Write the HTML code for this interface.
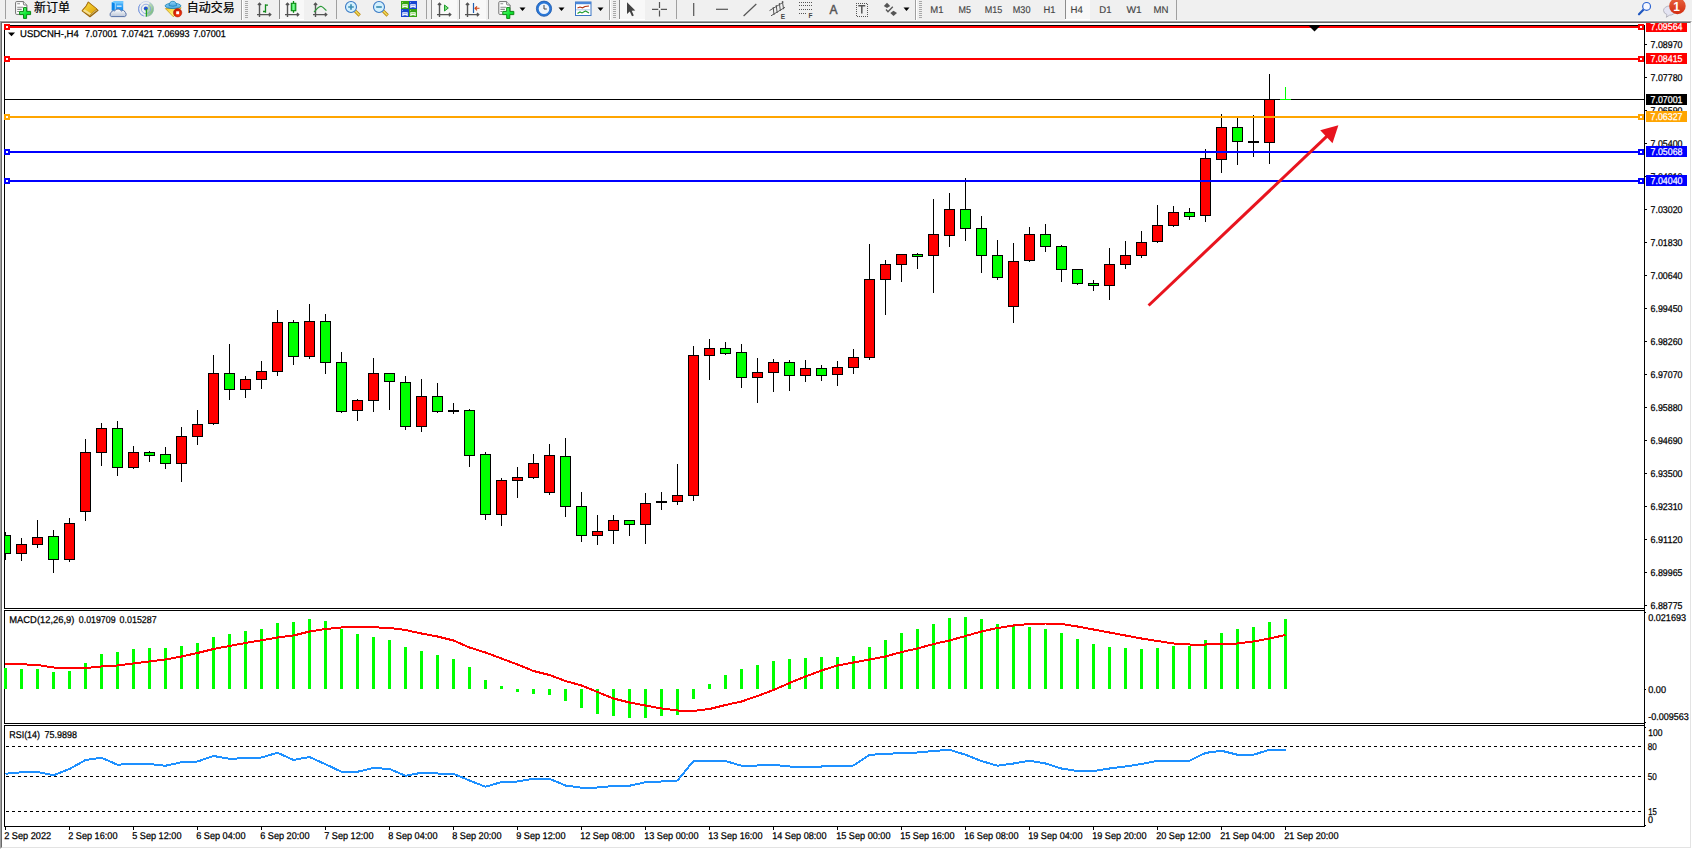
<!DOCTYPE html>
<html lang="zh-CN"><head><meta charset="utf-8"><title>USDCNH-,H4</title>
<style>
html,body{margin:0;padding:0;background:#f0f0f0;}
body{width:1692px;height:849px;overflow:hidden;position:relative;font-family:"Liberation Sans","Noto Sans CJK SC",sans-serif;}
#frame{position:absolute;left:0;top:21px;width:1692px;height:828px;background:#fff;box-sizing:border-box;border:1px solid #fff;border-top-color:#a0a0a0;border-left-color:#a0a0a0;}
#frame:before{content:"";position:absolute;left:0;top:0;right:0;bottom:0;border:1px solid #e3e3e3;border-top-color:#696969;border-left-color:#696969;}
#chart{position:absolute;left:0;top:0;}
#chart text{font-family:"Liberation Sans",sans-serif;}
#toolbar{position:absolute;left:0;top:0;width:1692px;height:21px;background:#f0f0f0;overflow:hidden;box-sizing:border-box;border-bottom:1px solid #f9f9f9;}
#toolbar .lbl{position:absolute;top:0;font-size:12px;line-height:16px;color:#000;-webkit-text-stroke:0.2px #000;white-space:nowrap;font-family:"Liberation Sans","Noto Sans CJK SC",sans-serif;}
#toolbar .tf{position:absolute;top:3.5px;font-size:9.3px;line-height:12px;color:#444;white-space:nowrap;}
#toolbar svg{position:absolute;left:0;top:0;}
</style></head>
<body>
<div id="frame"></div>
<svg id="chart" width="1692" height="849" viewBox="0 0 1692 849" shape-rendering="crispEdges">
<g fill="#000">
<rect x="4" y="25" width="1" height="584" fill="#000"/>
<rect x="4" y="25" width="1641" height="1" fill="#000"/>
<rect x="4" y="608" width="1641" height="1" fill="#000"/>
<rect x="4" y="610" width="1" height="114" fill="#000"/>
<rect x="4" y="610" width="1641" height="1" fill="#000"/>
<rect x="4" y="723" width="1641" height="1" fill="#000"/>
<rect x="4" y="725" width="1" height="102" fill="#000"/>
<rect x="4" y="725" width="1641" height="1" fill="#000"/>
<rect x="4" y="826" width="1641" height="1" fill="#000"/>
<rect x="1644" y="25" width="1" height="802" fill="#000"/>
<rect x="1645" y="44" width="2" height="1" fill="#000"/>
<rect x="1645" y="77" width="2" height="1" fill="#000"/>
<rect x="1645" y="110" width="2" height="1" fill="#000"/>
<rect x="1645" y="143" width="2" height="1" fill="#000"/>
<rect x="1645" y="176" width="2" height="1" fill="#000"/>
<rect x="1645" y="209" width="2" height="1" fill="#000"/>
<rect x="1645" y="242" width="2" height="1" fill="#000"/>
<rect x="1645" y="275" width="2" height="1" fill="#000"/>
<rect x="1645" y="308" width="2" height="1" fill="#000"/>
<rect x="1645" y="341" width="2" height="1" fill="#000"/>
<rect x="1645" y="374" width="2" height="1" fill="#000"/>
<rect x="1645" y="407" width="2" height="1" fill="#000"/>
<rect x="1645" y="440" width="2" height="1" fill="#000"/>
<rect x="1645" y="473" width="2" height="1" fill="#000"/>
<rect x="1645" y="506" width="2" height="1" fill="#000"/>
<rect x="1645" y="539" width="2" height="1" fill="#000"/>
<rect x="1645" y="572" width="2" height="1" fill="#000"/>
<rect x="1645" y="605" width="2" height="1" fill="#000"/>
<rect x="1645" y="689" width="1" height="1" fill="#000"/>
<rect x="1645" y="612" width="1" height="1" fill="#000"/>
<rect x="1645" y="722" width="1" height="1" fill="#000"/>
<rect x="1645" y="727" width="1" height="1" fill="#000"/>
<rect x="1645" y="825" width="1" height="1" fill="#000"/>
<rect x="5" y="827" width="1" height="3" fill="#000"/>
<rect x="69" y="827" width="1" height="3" fill="#000"/>
<rect x="133" y="827" width="1" height="3" fill="#000"/>
<rect x="197" y="827" width="1" height="3" fill="#000"/>
<rect x="261" y="827" width="1" height="3" fill="#000"/>
<rect x="325" y="827" width="1" height="3" fill="#000"/>
<rect x="389" y="827" width="1" height="3" fill="#000"/>
<rect x="453" y="827" width="1" height="3" fill="#000"/>
<rect x="517" y="827" width="1" height="3" fill="#000"/>
<rect x="581" y="827" width="1" height="3" fill="#000"/>
<rect x="645" y="827" width="1" height="3" fill="#000"/>
<rect x="709" y="827" width="1" height="3" fill="#000"/>
<rect x="773" y="827" width="1" height="3" fill="#000"/>
<rect x="837" y="827" width="1" height="3" fill="#000"/>
<rect x="901" y="827" width="1" height="3" fill="#000"/>
<rect x="965" y="827" width="1" height="3" fill="#000"/>
<rect x="1029" y="827" width="1" height="3" fill="#000"/>
<rect x="1093" y="827" width="1" height="3" fill="#000"/>
<rect x="1157" y="827" width="1" height="3" fill="#000"/>
<rect x="1221" y="827" width="1" height="3" fill="#000"/>
<rect x="1285" y="827" width="1" height="3" fill="#000"/>
</g>
<rect x="5" y="99" width="1639" height="1" fill="#000"/>
<g id="candles">
<rect x="5" y="532" width="1" height="28" fill="#000"/>
<rect x="5" y="535" width="6" height="19" fill="#000"/>
<rect x="5" y="536" width="5" height="17" fill="#00ff00"/>
<rect x="21" y="538" width="1" height="23" fill="#000"/>
<rect x="16" y="544" width="11" height="10" fill="#000"/>
<rect x="17" y="545" width="9" height="8" fill="#ff0000"/>
<rect x="37" y="520" width="1" height="28" fill="#000"/>
<rect x="32" y="537" width="11" height="8" fill="#000"/>
<rect x="33" y="538" width="9" height="6" fill="#ff0000"/>
<rect x="53" y="530" width="1" height="43" fill="#000"/>
<rect x="48" y="536" width="11" height="24" fill="#000"/>
<rect x="49" y="537" width="9" height="22" fill="#00ff00"/>
<rect x="69" y="518" width="1" height="44" fill="#000"/>
<rect x="64" y="523" width="11" height="37" fill="#000"/>
<rect x="65" y="524" width="9" height="35" fill="#ff0000"/>
<rect x="85" y="439" width="1" height="82" fill="#000"/>
<rect x="80" y="452" width="11" height="60" fill="#000"/>
<rect x="81" y="453" width="9" height="58" fill="#ff0000"/>
<rect x="101" y="423" width="1" height="43" fill="#000"/>
<rect x="96" y="428" width="11" height="25" fill="#000"/>
<rect x="97" y="429" width="9" height="23" fill="#ff0000"/>
<rect x="117" y="421" width="1" height="55" fill="#000"/>
<rect x="112" y="428" width="11" height="40" fill="#000"/>
<rect x="113" y="429" width="9" height="38" fill="#00ff00"/>
<rect x="133" y="446" width="1" height="23" fill="#000"/>
<rect x="128" y="452" width="11" height="16" fill="#000"/>
<rect x="129" y="453" width="9" height="14" fill="#ff0000"/>
<rect x="149" y="451" width="1" height="11" fill="#000"/>
<rect x="144" y="452" width="11" height="4" fill="#000"/>
<rect x="145" y="453" width="9" height="2" fill="#00ff00"/>
<rect x="165" y="447" width="1" height="22" fill="#000"/>
<rect x="160" y="454" width="11" height="10" fill="#000"/>
<rect x="161" y="455" width="9" height="8" fill="#00ff00"/>
<rect x="181" y="427" width="1" height="55" fill="#000"/>
<rect x="176" y="436" width="11" height="28" fill="#000"/>
<rect x="177" y="437" width="9" height="26" fill="#ff0000"/>
<rect x="197" y="410" width="1" height="35" fill="#000"/>
<rect x="192" y="424" width="11" height="13" fill="#000"/>
<rect x="193" y="425" width="9" height="11" fill="#ff0000"/>
<rect x="213" y="355" width="1" height="70" fill="#000"/>
<rect x="208" y="373" width="11" height="51" fill="#000"/>
<rect x="209" y="374" width="9" height="49" fill="#ff0000"/>
<rect x="229" y="344" width="1" height="56" fill="#000"/>
<rect x="224" y="373" width="11" height="17" fill="#000"/>
<rect x="225" y="374" width="9" height="15" fill="#00ff00"/>
<rect x="245" y="376" width="1" height="22" fill="#000"/>
<rect x="240" y="379" width="11" height="11" fill="#000"/>
<rect x="241" y="380" width="9" height="9" fill="#ff0000"/>
<rect x="261" y="361" width="1" height="28" fill="#000"/>
<rect x="256" y="371" width="11" height="9" fill="#000"/>
<rect x="257" y="372" width="9" height="7" fill="#ff0000"/>
<rect x="277" y="310" width="1" height="66" fill="#000"/>
<rect x="272" y="322" width="11" height="50" fill="#000"/>
<rect x="273" y="323" width="9" height="48" fill="#ff0000"/>
<rect x="293" y="320" width="1" height="45" fill="#000"/>
<rect x="288" y="322" width="11" height="35" fill="#000"/>
<rect x="289" y="323" width="9" height="33" fill="#00ff00"/>
<rect x="309" y="304" width="1" height="55" fill="#000"/>
<rect x="304" y="321" width="11" height="36" fill="#000"/>
<rect x="305" y="322" width="9" height="34" fill="#ff0000"/>
<rect x="325" y="314" width="1" height="60" fill="#000"/>
<rect x="320" y="321" width="11" height="42" fill="#000"/>
<rect x="321" y="322" width="9" height="40" fill="#00ff00"/>
<rect x="341" y="352" width="1" height="61" fill="#000"/>
<rect x="336" y="362" width="11" height="50" fill="#000"/>
<rect x="337" y="363" width="9" height="48" fill="#00ff00"/>
<rect x="357" y="399" width="1" height="22" fill="#000"/>
<rect x="352" y="400" width="11" height="11" fill="#000"/>
<rect x="353" y="401" width="9" height="9" fill="#ff0000"/>
<rect x="373" y="358" width="1" height="54" fill="#000"/>
<rect x="368" y="373" width="11" height="28" fill="#000"/>
<rect x="369" y="374" width="9" height="26" fill="#ff0000"/>
<rect x="389" y="373" width="1" height="37" fill="#000"/>
<rect x="384" y="373" width="11" height="9" fill="#000"/>
<rect x="385" y="374" width="9" height="7" fill="#00ff00"/>
<rect x="405" y="376" width="1" height="54" fill="#000"/>
<rect x="400" y="382" width="11" height="45" fill="#000"/>
<rect x="401" y="383" width="9" height="43" fill="#00ff00"/>
<rect x="421" y="379" width="1" height="53" fill="#000"/>
<rect x="416" y="396" width="11" height="31" fill="#000"/>
<rect x="417" y="397" width="9" height="29" fill="#ff0000"/>
<rect x="437" y="383" width="1" height="30" fill="#000"/>
<rect x="432" y="396" width="11" height="16" fill="#000"/>
<rect x="433" y="397" width="9" height="14" fill="#00ff00"/>
<rect x="453" y="403" width="1" height="11" fill="#000"/>
<rect x="448" y="410" width="11" height="2" fill="#000"/>
<rect x="469" y="409" width="1" height="58" fill="#000"/>
<rect x="464" y="410" width="11" height="46" fill="#000"/>
<rect x="465" y="411" width="9" height="44" fill="#00ff00"/>
<rect x="485" y="452" width="1" height="68" fill="#000"/>
<rect x="480" y="454" width="11" height="61" fill="#000"/>
<rect x="481" y="455" width="9" height="59" fill="#00ff00"/>
<rect x="501" y="478" width="1" height="48" fill="#000"/>
<rect x="496" y="480" width="11" height="35" fill="#000"/>
<rect x="497" y="481" width="9" height="33" fill="#ff0000"/>
<rect x="517" y="467" width="1" height="31" fill="#000"/>
<rect x="512" y="477" width="11" height="4" fill="#000"/>
<rect x="513" y="478" width="9" height="2" fill="#ff0000"/>
<rect x="533" y="454" width="1" height="25" fill="#000"/>
<rect x="528" y="463" width="11" height="15" fill="#000"/>
<rect x="529" y="464" width="9" height="13" fill="#ff0000"/>
<rect x="549" y="444" width="1" height="51" fill="#000"/>
<rect x="544" y="455" width="11" height="38" fill="#000"/>
<rect x="545" y="456" width="9" height="36" fill="#ff0000"/>
<rect x="565" y="438" width="1" height="79" fill="#000"/>
<rect x="560" y="456" width="11" height="51" fill="#000"/>
<rect x="561" y="457" width="9" height="49" fill="#00ff00"/>
<rect x="581" y="492" width="1" height="50" fill="#000"/>
<rect x="576" y="506" width="11" height="30" fill="#000"/>
<rect x="577" y="507" width="9" height="28" fill="#00ff00"/>
<rect x="597" y="515" width="1" height="30" fill="#000"/>
<rect x="592" y="531" width="11" height="5" fill="#000"/>
<rect x="593" y="532" width="9" height="3" fill="#ff0000"/>
<rect x="613" y="515" width="1" height="29" fill="#000"/>
<rect x="608" y="520" width="11" height="11" fill="#000"/>
<rect x="609" y="521" width="9" height="9" fill="#ff0000"/>
<rect x="629" y="520" width="1" height="16" fill="#000"/>
<rect x="624" y="520" width="11" height="5" fill="#000"/>
<rect x="625" y="521" width="9" height="3" fill="#00ff00"/>
<rect x="645" y="493" width="1" height="51" fill="#000"/>
<rect x="640" y="503" width="11" height="22" fill="#000"/>
<rect x="641" y="504" width="9" height="20" fill="#ff0000"/>
<rect x="661" y="492" width="1" height="18" fill="#000"/>
<rect x="656" y="501" width="11" height="2" fill="#000"/>
<rect x="677" y="464" width="1" height="41" fill="#000"/>
<rect x="672" y="495" width="11" height="7" fill="#000"/>
<rect x="673" y="496" width="9" height="5" fill="#ff0000"/>
<rect x="693" y="346" width="1" height="155" fill="#000"/>
<rect x="688" y="355" width="11" height="141" fill="#000"/>
<rect x="689" y="356" width="9" height="139" fill="#ff0000"/>
<rect x="709" y="339" width="1" height="41" fill="#000"/>
<rect x="704" y="348" width="11" height="8" fill="#000"/>
<rect x="705" y="349" width="9" height="6" fill="#ff0000"/>
<rect x="725" y="342" width="1" height="13" fill="#000"/>
<rect x="720" y="348" width="11" height="6" fill="#000"/>
<rect x="721" y="349" width="9" height="4" fill="#00ff00"/>
<rect x="741" y="344" width="1" height="44" fill="#000"/>
<rect x="736" y="352" width="11" height="26" fill="#000"/>
<rect x="737" y="353" width="9" height="24" fill="#00ff00"/>
<rect x="757" y="358" width="1" height="45" fill="#000"/>
<rect x="752" y="372" width="11" height="6" fill="#000"/>
<rect x="753" y="373" width="9" height="4" fill="#ff0000"/>
<rect x="773" y="359" width="1" height="33" fill="#000"/>
<rect x="768" y="362" width="11" height="11" fill="#000"/>
<rect x="769" y="363" width="9" height="9" fill="#ff0000"/>
<rect x="789" y="360" width="1" height="31" fill="#000"/>
<rect x="784" y="362" width="11" height="14" fill="#000"/>
<rect x="785" y="363" width="9" height="12" fill="#00ff00"/>
<rect x="805" y="360" width="1" height="22" fill="#000"/>
<rect x="800" y="368" width="11" height="8" fill="#000"/>
<rect x="801" y="369" width="9" height="6" fill="#ff0000"/>
<rect x="821" y="365" width="1" height="16" fill="#000"/>
<rect x="816" y="368" width="11" height="8" fill="#000"/>
<rect x="817" y="369" width="9" height="6" fill="#00ff00"/>
<rect x="837" y="361" width="1" height="25" fill="#000"/>
<rect x="832" y="367" width="11" height="8" fill="#000"/>
<rect x="833" y="368" width="9" height="6" fill="#ff0000"/>
<rect x="853" y="349" width="1" height="25" fill="#000"/>
<rect x="848" y="357" width="11" height="11" fill="#000"/>
<rect x="849" y="358" width="9" height="9" fill="#ff0000"/>
<rect x="869" y="244" width="1" height="116" fill="#000"/>
<rect x="864" y="279" width="11" height="79" fill="#000"/>
<rect x="865" y="280" width="9" height="77" fill="#ff0000"/>
<rect x="885" y="260" width="1" height="55" fill="#000"/>
<rect x="880" y="264" width="11" height="16" fill="#000"/>
<rect x="881" y="265" width="9" height="14" fill="#ff0000"/>
<rect x="901" y="254" width="1" height="28" fill="#000"/>
<rect x="896" y="254" width="11" height="11" fill="#000"/>
<rect x="897" y="255" width="9" height="9" fill="#ff0000"/>
<rect x="917" y="253" width="1" height="16" fill="#000"/>
<rect x="912" y="254" width="11" height="3" fill="#000"/>
<rect x="913" y="255" width="9" height="1" fill="#00ff00"/>
<rect x="933" y="199" width="1" height="94" fill="#000"/>
<rect x="928" y="234" width="11" height="22" fill="#000"/>
<rect x="929" y="235" width="9" height="20" fill="#ff0000"/>
<rect x="949" y="193" width="1" height="54" fill="#000"/>
<rect x="944" y="209" width="11" height="27" fill="#000"/>
<rect x="945" y="210" width="9" height="25" fill="#ff0000"/>
<rect x="965" y="178" width="1" height="63" fill="#000"/>
<rect x="960" y="209" width="11" height="20" fill="#000"/>
<rect x="961" y="210" width="9" height="18" fill="#00ff00"/>
<rect x="981" y="216" width="1" height="57" fill="#000"/>
<rect x="976" y="228" width="11" height="28" fill="#000"/>
<rect x="977" y="229" width="9" height="26" fill="#00ff00"/>
<rect x="997" y="240" width="1" height="40" fill="#000"/>
<rect x="992" y="255" width="11" height="23" fill="#000"/>
<rect x="993" y="256" width="9" height="21" fill="#00ff00"/>
<rect x="1013" y="243" width="1" height="80" fill="#000"/>
<rect x="1008" y="261" width="11" height="46" fill="#000"/>
<rect x="1009" y="262" width="9" height="44" fill="#ff0000"/>
<rect x="1029" y="227" width="1" height="35" fill="#000"/>
<rect x="1024" y="234" width="11" height="27" fill="#000"/>
<rect x="1025" y="235" width="9" height="25" fill="#ff0000"/>
<rect x="1045" y="224" width="1" height="28" fill="#000"/>
<rect x="1040" y="234" width="11" height="13" fill="#000"/>
<rect x="1041" y="235" width="9" height="11" fill="#00ff00"/>
<rect x="1061" y="245" width="1" height="37" fill="#000"/>
<rect x="1056" y="246" width="11" height="24" fill="#000"/>
<rect x="1057" y="247" width="9" height="22" fill="#00ff00"/>
<rect x="1077" y="269" width="1" height="16" fill="#000"/>
<rect x="1072" y="269" width="11" height="15" fill="#000"/>
<rect x="1073" y="270" width="9" height="13" fill="#00ff00"/>
<rect x="1093" y="280" width="1" height="11" fill="#000"/>
<rect x="1088" y="283" width="11" height="3" fill="#000"/>
<rect x="1089" y="284" width="9" height="1" fill="#00ff00"/>
<rect x="1109" y="248" width="1" height="52" fill="#000"/>
<rect x="1104" y="264" width="11" height="22" fill="#000"/>
<rect x="1105" y="265" width="9" height="20" fill="#ff0000"/>
<rect x="1125" y="241" width="1" height="28" fill="#000"/>
<rect x="1120" y="255" width="11" height="10" fill="#000"/>
<rect x="1121" y="256" width="9" height="8" fill="#ff0000"/>
<rect x="1141" y="231" width="1" height="27" fill="#000"/>
<rect x="1136" y="242" width="11" height="14" fill="#000"/>
<rect x="1137" y="243" width="9" height="12" fill="#ff0000"/>
<rect x="1157" y="205" width="1" height="38" fill="#000"/>
<rect x="1152" y="225" width="11" height="17" fill="#000"/>
<rect x="1153" y="226" width="9" height="15" fill="#ff0000"/>
<rect x="1173" y="206" width="1" height="21" fill="#000"/>
<rect x="1168" y="212" width="11" height="14" fill="#000"/>
<rect x="1169" y="213" width="9" height="12" fill="#ff0000"/>
<rect x="1189" y="208" width="1" height="12" fill="#000"/>
<rect x="1184" y="212" width="11" height="5" fill="#000"/>
<rect x="1185" y="213" width="9" height="3" fill="#00ff00"/>
<rect x="1205" y="149" width="1" height="73" fill="#000"/>
<rect x="1200" y="158" width="11" height="58" fill="#000"/>
<rect x="1201" y="159" width="9" height="56" fill="#ff0000"/>
<rect x="1221" y="114" width="1" height="59" fill="#000"/>
<rect x="1216" y="127" width="11" height="33" fill="#000"/>
<rect x="1217" y="128" width="9" height="31" fill="#ff0000"/>
<rect x="1237" y="118" width="1" height="47" fill="#000"/>
<rect x="1232" y="127" width="11" height="15" fill="#000"/>
<rect x="1233" y="128" width="9" height="13" fill="#00ff00"/>
<rect x="1253" y="115" width="1" height="42" fill="#000"/>
<rect x="1248" y="141" width="11" height="2" fill="#000"/>
<rect x="1269" y="74" width="1" height="90" fill="#000"/>
<rect x="1264" y="99" width="11" height="44" fill="#000"/>
<rect x="1265" y="100" width="9" height="42" fill="#ff0000"/>
<rect x="1285" y="87" width="1" height="13" fill="#00ff00"/>
<rect x="1280" y="99" width="11" height="1" fill="#00ff00"/>
</g>
<g id="levels">
<rect x="5" y="26" width="1639" height="2" fill="#ff0000"/><rect x="4" y="24" width="6" height="6" fill="#ff0000"/><rect x="6" y="26" width="2" height="2" fill="#fff"/><rect x="1638" y="24" width="6" height="6" fill="#ff0000"/><rect x="1640" y="26" width="2" height="2" fill="#fff"/>
<rect x="5" y="58" width="1639" height="2" fill="#ff0000"/><rect x="4" y="56" width="6" height="6" fill="#ff0000"/><rect x="6" y="58" width="2" height="2" fill="#fff"/><rect x="1638" y="56" width="6" height="6" fill="#ff0000"/><rect x="1640" y="58" width="2" height="2" fill="#fff"/>
<rect x="5" y="116" width="1639" height="2" fill="#ffa500"/><rect x="4" y="114" width="6" height="6" fill="#ffa500"/><rect x="6" y="116" width="2" height="2" fill="#fff"/><rect x="1638" y="114" width="6" height="6" fill="#ffa500"/><rect x="1640" y="116" width="2" height="2" fill="#fff"/>
<rect x="5" y="151" width="1639" height="2" fill="#0000ff"/><rect x="4" y="149" width="6" height="6" fill="#0000ff"/><rect x="6" y="151" width="2" height="2" fill="#fff"/><rect x="1638" y="149" width="6" height="6" fill="#0000ff"/><rect x="1640" y="151" width="2" height="2" fill="#fff"/>
<rect x="5" y="180" width="1639" height="2" fill="#0000ff"/><rect x="4" y="178" width="6" height="6" fill="#0000ff"/><rect x="6" y="180" width="2" height="2" fill="#fff"/><rect x="1638" y="178" width="6" height="6" fill="#0000ff"/><rect x="1640" y="180" width="2" height="2" fill="#fff"/>
</g>
<path d="M1309 26 L1320 26 L1314.5 31.5 Z" fill="#000" shape-rendering="geometricPrecision"/>
<g id="arrow" shape-rendering="geometricPrecision"><line x1="1148.6" y1="305.5" x2="1327.8" y2="135.4" stroke="#e8141e" stroke-width="3"/><path d="M1338.4 125.3 L1332.5 143.2 L1320.2 130.3 Z" fill="#e8141e"/></g>
<g id="macd">
<rect x="4" y="668" width="3" height="21" fill="#00ff00"/>
<rect x="20" y="669" width="3" height="20" fill="#00ff00"/>
<rect x="36" y="669" width="3" height="20" fill="#00ff00"/>
<rect x="52" y="672" width="3" height="17" fill="#00ff00"/>
<rect x="68" y="671" width="3" height="18" fill="#00ff00"/>
<rect x="84" y="663" width="3" height="26" fill="#00ff00"/>
<rect x="100" y="654" width="3" height="35" fill="#00ff00"/>
<rect x="116" y="652" width="3" height="37" fill="#00ff00"/>
<rect x="132" y="649" width="3" height="40" fill="#00ff00"/>
<rect x="148" y="648" width="3" height="41" fill="#00ff00"/>
<rect x="164" y="648" width="3" height="41" fill="#00ff00"/>
<rect x="180" y="646" width="3" height="43" fill="#00ff00"/>
<rect x="196" y="643" width="3" height="46" fill="#00ff00"/>
<rect x="212" y="637" width="3" height="52" fill="#00ff00"/>
<rect x="228" y="634" width="3" height="55" fill="#00ff00"/>
<rect x="244" y="631" width="3" height="58" fill="#00ff00"/>
<rect x="260" y="629" width="3" height="60" fill="#00ff00"/>
<rect x="276" y="623" width="3" height="66" fill="#00ff00"/>
<rect x="292" y="622" width="3" height="67" fill="#00ff00"/>
<rect x="308" y="619" width="3" height="70" fill="#00ff00"/>
<rect x="324" y="621" width="3" height="68" fill="#00ff00"/>
<rect x="340" y="629" width="3" height="60" fill="#00ff00"/>
<rect x="356" y="634" width="3" height="55" fill="#00ff00"/>
<rect x="372" y="637" width="3" height="52" fill="#00ff00"/>
<rect x="388" y="640" width="3" height="49" fill="#00ff00"/>
<rect x="404" y="647" width="3" height="42" fill="#00ff00"/>
<rect x="420" y="651" width="3" height="38" fill="#00ff00"/>
<rect x="436" y="655" width="3" height="34" fill="#00ff00"/>
<rect x="452" y="659" width="3" height="30" fill="#00ff00"/>
<rect x="468" y="667" width="3" height="22" fill="#00ff00"/>
<rect x="484" y="680" width="3" height="9" fill="#00ff00"/>
<rect x="500" y="686" width="3" height="3" fill="#00ff00"/>
<rect x="516" y="689" width="3" height="3" fill="#00ff00"/>
<rect x="532" y="689" width="3" height="5" fill="#00ff00"/>
<rect x="548" y="689" width="3" height="6" fill="#00ff00"/>
<rect x="564" y="689" width="3" height="12" fill="#00ff00"/>
<rect x="580" y="689" width="3" height="19" fill="#00ff00"/>
<rect x="596" y="689" width="3" height="25" fill="#00ff00"/>
<rect x="612" y="689" width="3" height="27" fill="#00ff00"/>
<rect x="628" y="689" width="3" height="29" fill="#00ff00"/>
<rect x="644" y="689" width="3" height="29" fill="#00ff00"/>
<rect x="660" y="689" width="3" height="27" fill="#00ff00"/>
<rect x="676" y="689" width="3" height="26" fill="#00ff00"/>
<rect x="692" y="689" width="3" height="10" fill="#00ff00"/>
<rect x="708" y="684" width="3" height="5" fill="#00ff00"/>
<rect x="724" y="675" width="3" height="14" fill="#00ff00"/>
<rect x="740" y="669" width="3" height="20" fill="#00ff00"/>
<rect x="756" y="665" width="3" height="24" fill="#00ff00"/>
<rect x="772" y="661" width="3" height="28" fill="#00ff00"/>
<rect x="788" y="659" width="3" height="30" fill="#00ff00"/>
<rect x="804" y="658" width="3" height="31" fill="#00ff00"/>
<rect x="820" y="657" width="3" height="32" fill="#00ff00"/>
<rect x="836" y="657" width="3" height="32" fill="#00ff00"/>
<rect x="852" y="656" width="3" height="33" fill="#00ff00"/>
<rect x="868" y="647" width="3" height="42" fill="#00ff00"/>
<rect x="884" y="640" width="3" height="49" fill="#00ff00"/>
<rect x="900" y="633" width="3" height="56" fill="#00ff00"/>
<rect x="916" y="629" width="3" height="60" fill="#00ff00"/>
<rect x="932" y="624" width="3" height="65" fill="#00ff00"/>
<rect x="948" y="618" width="3" height="71" fill="#00ff00"/>
<rect x="964" y="617" width="3" height="72" fill="#00ff00"/>
<rect x="980" y="619" width="3" height="70" fill="#00ff00"/>
<rect x="996" y="624" width="3" height="65" fill="#00ff00"/>
<rect x="1012" y="626" width="3" height="63" fill="#00ff00"/>
<rect x="1028" y="627" width="3" height="62" fill="#00ff00"/>
<rect x="1044" y="629" width="3" height="60" fill="#00ff00"/>
<rect x="1060" y="633" width="3" height="56" fill="#00ff00"/>
<rect x="1076" y="639" width="3" height="50" fill="#00ff00"/>
<rect x="1092" y="644" width="3" height="45" fill="#00ff00"/>
<rect x="1108" y="647" width="3" height="42" fill="#00ff00"/>
<rect x="1124" y="648" width="3" height="41" fill="#00ff00"/>
<rect x="1140" y="649" width="3" height="40" fill="#00ff00"/>
<rect x="1156" y="648" width="3" height="41" fill="#00ff00"/>
<rect x="1172" y="646" width="3" height="43" fill="#00ff00"/>
<rect x="1188" y="646" width="3" height="43" fill="#00ff00"/>
<rect x="1204" y="640" width="3" height="49" fill="#00ff00"/>
<rect x="1220" y="633" width="3" height="56" fill="#00ff00"/>
<rect x="1236" y="629" width="3" height="60" fill="#00ff00"/>
<rect x="1252" y="627" width="3" height="62" fill="#00ff00"/>
<rect x="1268" y="622" width="3" height="67" fill="#00ff00"/>
<rect x="1284" y="619" width="3" height="70" fill="#00ff00"/>
<polyline points="5.5,664 21.5,664.25 37.5,665 53.5,667.5 69.5,668 85.5,668 101.5,666.5 117.5,665.5 133.5,663.5 149.5,661.5 165.5,659.5 181.5,656.5 197.5,653 213.5,649 229.5,646 245.5,643 261.5,640.25 277.5,637.5 293.5,635.5 309.5,631.5 325.5,629 341.5,627.5 357.5,627 373.5,627.25 389.5,628 405.5,630 421.5,633.5 437.5,636.5 453.5,640.5 469.5,647.5 485.5,652.5 501.5,658.5 517.5,664.5 533.5,671 549.5,675 565.5,681 581.5,685.5 597.5,692 613.5,698.5 629.5,702.5 645.5,705.5 661.5,708.5 677.5,710.5 693.5,711 709.5,709 725.5,705 741.5,701.5 757.5,696 773.5,690 789.5,683 805.5,676.5 821.5,670.5 837.5,665.5 853.5,662.5 869.5,659.5 885.5,656.5 901.5,652 917.5,648.5 933.5,644 949.5,640.5 965.5,636 981.5,631.5 997.5,628 1013.5,625.5 1029.5,624 1045.5,623.5 1061.5,624 1077.5,626.5 1093.5,629.5 1109.5,632.5 1125.5,635.5 1141.5,638.5 1157.5,641 1173.5,643.5 1189.5,644.5 1205.5,644.5 1221.5,644 1237.5,643.5 1253.5,641.5 1269.5,638.5 1285.5,635" fill="none" stroke="#ff0000" stroke-width="2" stroke-linejoin="round" shape-rendering="crispEdges"/>
</g>
<g id="rsi">
<line x1="6" y1="746.5" x2="1643" y2="746.5" stroke="#000" stroke-width="1" stroke-dasharray="3 3" shape-rendering="crispEdges"/>
<line x1="6" y1="776.5" x2="1643" y2="776.5" stroke="#000" stroke-width="1" stroke-dasharray="3 3" shape-rendering="crispEdges"/>
<line x1="6" y1="811.5" x2="1643" y2="811.5" stroke="#000" stroke-width="1" stroke-dasharray="3 3" shape-rendering="crispEdges"/>
<polyline points="5.5,773.75 21.5,772.25 37.5,772 53.5,775.25 69.5,769 85.5,760 101.5,757.75 117.5,764.75 133.5,763.75 149.5,764 165.5,765.75 181.5,762.25 197.5,761.5 213.5,756 229.5,758.75 245.5,758.25 261.5,757.5 277.5,752.75 293.5,760 309.5,757 325.5,764.25 341.5,771.75 357.5,771.75 373.5,768 389.5,769 405.5,775.75 421.5,772.75 437.5,773.5 453.5,773.75 469.5,780.5 485.5,786.75 501.5,782 517.5,781.5 533.5,778.75 549.5,778.75 565.5,785.5 581.5,787.75 597.5,787.5 613.5,786 629.5,785.75 645.5,782.25 661.5,781.5 677.5,780.5 693.5,761 709.5,761 725.5,761 741.5,765.75 757.5,765.5 773.5,764.75 789.5,766.5 805.5,766.5 821.5,766.5 837.5,766 853.5,765.5 869.5,754.75 885.5,754 901.5,753 917.5,752.5 933.5,751 949.5,749.75 965.5,754.75 981.5,761 997.5,765.75 1013.5,763.5 1029.5,760.75 1045.5,763.5 1061.5,768.5 1077.5,771 1093.5,771 1109.5,768.5 1125.5,766.5 1141.5,764 1157.5,760.75 1173.5,760.75 1189.5,760.75 1205.5,752.9 1221.5,750.75 1237.5,754.75 1253.5,754.75 1269.5,749.75 1285.5,749.75" fill="none" stroke="#1e90ff" stroke-width="2" stroke-linejoin="round" shape-rendering="crispEdges"/>
</g>
<g id="labels" shape-rendering="geometricPrecision" text-rendering="geometricPrecision" font-family="'Liberation Sans',sans-serif" style="white-space:pre">
<path d="M8 32.5 L15 32.5 L11.5 36.2 Z" fill="#000"/>
<text x="20" y="37" fill="#000" stroke="#000" stroke-width="0.25" font-size="9.8" textLength="58.75" lengthAdjust="spacingAndGlyphs">USDCNH-,H4</text>
<text x="85" y="37" fill="#000" stroke="#000" stroke-width="0.25" font-size="9.8" textLength="32.5" lengthAdjust="spacingAndGlyphs">7.07001</text>
<text x="121.2" y="37" fill="#000" stroke="#000" stroke-width="0.25" font-size="9.8" textLength="32.5" lengthAdjust="spacingAndGlyphs">7.07421</text>
<text x="157.1" y="37" fill="#000" stroke="#000" stroke-width="0.25" font-size="9.8" textLength="32.5" lengthAdjust="spacingAndGlyphs">7.06993</text>
<text x="193.3" y="37" fill="#000" stroke="#000" stroke-width="0.25" font-size="9.8" textLength="32.5" lengthAdjust="spacingAndGlyphs">7.07001</text>
<text x="9.25" y="623" fill="#000" stroke="#000" stroke-width="0.25" font-size="9.8" textLength="65.2" lengthAdjust="spacingAndGlyphs">MACD(12,26,9)</text>
<text x="78.8" y="623" fill="#000" stroke="#000" stroke-width="0.25" font-size="9.8" textLength="36.8" lengthAdjust="spacingAndGlyphs">0.019709</text>
<text x="119.6" y="623" fill="#000" stroke="#000" stroke-width="0.25" font-size="9.8" textLength="37.1" lengthAdjust="spacingAndGlyphs">0.015287</text>
<text x="9.25" y="738" fill="#000" stroke="#000" stroke-width="0.25" font-size="9.8" textLength="30.8" lengthAdjust="spacingAndGlyphs">RSI(14)</text>
<text x="44.5" y="738" fill="#000" stroke="#000" stroke-width="0.25" font-size="9.8" textLength="32.5" lengthAdjust="spacingAndGlyphs">75.9898</text>
<text x="1650.5" y="48" fill="#000" stroke="#000" stroke-width="0.25" font-size="9.8" textLength="32" lengthAdjust="spacingAndGlyphs">7.08970</text>
<text x="1650.5" y="81" fill="#000" stroke="#000" stroke-width="0.25" font-size="9.8" textLength="32" lengthAdjust="spacingAndGlyphs">7.07780</text>
<text x="1650.5" y="114" fill="#000" stroke="#000" stroke-width="0.25" font-size="9.8" textLength="32" lengthAdjust="spacingAndGlyphs">7.06590</text>
<text x="1650.5" y="147" fill="#000" stroke="#000" stroke-width="0.25" font-size="9.8" textLength="32" lengthAdjust="spacingAndGlyphs">7.05400</text>
<text x="1650.5" y="180" fill="#000" stroke="#000" stroke-width="0.25" font-size="9.8" textLength="32" lengthAdjust="spacingAndGlyphs">7.04210</text>
<text x="1650.5" y="213" fill="#000" stroke="#000" stroke-width="0.25" font-size="9.8" textLength="32" lengthAdjust="spacingAndGlyphs">7.03020</text>
<text x="1650.5" y="246" fill="#000" stroke="#000" stroke-width="0.25" font-size="9.8" textLength="32" lengthAdjust="spacingAndGlyphs">7.01830</text>
<text x="1650.5" y="279" fill="#000" stroke="#000" stroke-width="0.25" font-size="9.8" textLength="32" lengthAdjust="spacingAndGlyphs">7.00640</text>
<text x="1650.5" y="312" fill="#000" stroke="#000" stroke-width="0.25" font-size="9.8" textLength="32" lengthAdjust="spacingAndGlyphs">6.99450</text>
<text x="1650.5" y="345" fill="#000" stroke="#000" stroke-width="0.25" font-size="9.8" textLength="32" lengthAdjust="spacingAndGlyphs">6.98260</text>
<text x="1650.5" y="378" fill="#000" stroke="#000" stroke-width="0.25" font-size="9.8" textLength="32" lengthAdjust="spacingAndGlyphs">6.97070</text>
<text x="1650.5" y="411" fill="#000" stroke="#000" stroke-width="0.25" font-size="9.8" textLength="32" lengthAdjust="spacingAndGlyphs">6.95880</text>
<text x="1650.5" y="444" fill="#000" stroke="#000" stroke-width="0.25" font-size="9.8" textLength="32" lengthAdjust="spacingAndGlyphs">6.94690</text>
<text x="1650.5" y="477" fill="#000" stroke="#000" stroke-width="0.25" font-size="9.8" textLength="32" lengthAdjust="spacingAndGlyphs">6.93500</text>
<text x="1650.5" y="510" fill="#000" stroke="#000" stroke-width="0.25" font-size="9.8" textLength="32" lengthAdjust="spacingAndGlyphs">6.92310</text>
<text x="1650.5" y="543" fill="#000" stroke="#000" stroke-width="0.25" font-size="9.8" textLength="32" lengthAdjust="spacingAndGlyphs">6.91120</text>
<text x="1650.5" y="576" fill="#000" stroke="#000" stroke-width="0.25" font-size="9.8" textLength="32" lengthAdjust="spacingAndGlyphs">6.89965</text>
<text x="1650.5" y="609" fill="#000" stroke="#000" stroke-width="0.25" font-size="9.8" textLength="32" lengthAdjust="spacingAndGlyphs">6.88775</text>
<text x="1648.2" y="621" fill="#000" stroke="#000" stroke-width="0.25" font-size="9.8" textLength="37.9" lengthAdjust="spacingAndGlyphs">0.021693</text>
<text x="1648.2" y="693" fill="#000" stroke="#000" stroke-width="0.25" font-size="9.8" textLength="17.8" lengthAdjust="spacingAndGlyphs">0.00</text>
<text x="1648.2" y="720" fill="#000" stroke="#000" stroke-width="0.25" font-size="9.8" textLength="40.6" lengthAdjust="spacingAndGlyphs">-0.009563</text>
<text x="1648.2" y="736" fill="#000" stroke="#000" stroke-width="0.25" font-size="9.8" textLength="14.2" lengthAdjust="spacingAndGlyphs">100</text>
<text x="1647.8" y="750" fill="#000" stroke="#000" stroke-width="0.25" font-size="9.8" textLength="9" lengthAdjust="spacingAndGlyphs">80</text>
<text x="1647.8" y="780" fill="#000" stroke="#000" stroke-width="0.25" font-size="9.8" textLength="9" lengthAdjust="spacingAndGlyphs">50</text>
<text x="1648.2" y="815" fill="#000" stroke="#000" stroke-width="0.25" font-size="9.8" textLength="8.6" lengthAdjust="spacingAndGlyphs">15</text>
<text x="1647.9" y="823" fill="#000" stroke="#000" stroke-width="0.25" font-size="9.8" textLength="5" lengthAdjust="spacingAndGlyphs">0</text>
<text x="4.2" y="839" fill="#000" stroke="#000" stroke-width="0.25" font-size="9.8" textLength="47" lengthAdjust="spacingAndGlyphs">2 Sep 2022</text>
<text x="68.2" y="839" fill="#000" stroke="#000" stroke-width="0.25" font-size="9.8" textLength="49.3" lengthAdjust="spacingAndGlyphs">2 Sep 16:00</text>
<text x="132.2" y="839" fill="#000" stroke="#000" stroke-width="0.25" font-size="9.8" textLength="49.3" lengthAdjust="spacingAndGlyphs">5 Sep 12:00</text>
<text x="196.2" y="839" fill="#000" stroke="#000" stroke-width="0.25" font-size="9.8" textLength="49.3" lengthAdjust="spacingAndGlyphs">6 Sep 04:00</text>
<text x="260.2" y="839" fill="#000" stroke="#000" stroke-width="0.25" font-size="9.8" textLength="49.3" lengthAdjust="spacingAndGlyphs">6 Sep 20:00</text>
<text x="324.2" y="839" fill="#000" stroke="#000" stroke-width="0.25" font-size="9.8" textLength="49.3" lengthAdjust="spacingAndGlyphs">7 Sep 12:00</text>
<text x="388.2" y="839" fill="#000" stroke="#000" stroke-width="0.25" font-size="9.8" textLength="49.3" lengthAdjust="spacingAndGlyphs">8 Sep 04:00</text>
<text x="452.2" y="839" fill="#000" stroke="#000" stroke-width="0.25" font-size="9.8" textLength="49.3" lengthAdjust="spacingAndGlyphs">8 Sep 20:00</text>
<text x="516.2" y="839" fill="#000" stroke="#000" stroke-width="0.25" font-size="9.8" textLength="49.3" lengthAdjust="spacingAndGlyphs">9 Sep 12:00</text>
<text x="580.2" y="839" fill="#000" stroke="#000" stroke-width="0.25" font-size="9.8" textLength="54.3" lengthAdjust="spacingAndGlyphs">12 Sep 08:00</text>
<text x="644.2" y="839" fill="#000" stroke="#000" stroke-width="0.25" font-size="9.8" textLength="54.3" lengthAdjust="spacingAndGlyphs">13 Sep 00:00</text>
<text x="708.2" y="839" fill="#000" stroke="#000" stroke-width="0.25" font-size="9.8" textLength="54.3" lengthAdjust="spacingAndGlyphs">13 Sep 16:00</text>
<text x="772.2" y="839" fill="#000" stroke="#000" stroke-width="0.25" font-size="9.8" textLength="54.3" lengthAdjust="spacingAndGlyphs">14 Sep 08:00</text>
<text x="836.2" y="839" fill="#000" stroke="#000" stroke-width="0.25" font-size="9.8" textLength="54.3" lengthAdjust="spacingAndGlyphs">15 Sep 00:00</text>
<text x="900.2" y="839" fill="#000" stroke="#000" stroke-width="0.25" font-size="9.8" textLength="54.3" lengthAdjust="spacingAndGlyphs">15 Sep 16:00</text>
<text x="964.2" y="839" fill="#000" stroke="#000" stroke-width="0.25" font-size="9.8" textLength="54.3" lengthAdjust="spacingAndGlyphs">16 Sep 08:00</text>
<text x="1028.2" y="839" fill="#000" stroke="#000" stroke-width="0.25" font-size="9.8" textLength="54.3" lengthAdjust="spacingAndGlyphs">19 Sep 04:00</text>
<text x="1092.2" y="839" fill="#000" stroke="#000" stroke-width="0.25" font-size="9.8" textLength="54.3" lengthAdjust="spacingAndGlyphs">19 Sep 20:00</text>
<text x="1156.2" y="839" fill="#000" stroke="#000" stroke-width="0.25" font-size="9.8" textLength="54.3" lengthAdjust="spacingAndGlyphs">20 Sep 12:00</text>
<text x="1220.2" y="839" fill="#000" stroke="#000" stroke-width="0.25" font-size="9.8" textLength="54.3" lengthAdjust="spacingAndGlyphs">21 Sep 04:00</text>
<text x="1284.2" y="839" fill="#000" stroke="#000" stroke-width="0.25" font-size="9.8" textLength="54.3" lengthAdjust="spacingAndGlyphs">21 Sep 20:00</text>
<rect x="1646" y="23" width="41" height="9" fill="#ff0000"/><text x="1650.5" y="30" fill="#fff" stroke="#fff" stroke-width="0.25" font-size="9.8" textLength="32" lengthAdjust="spacingAndGlyphs">7.09564</text>
<rect x="1646" y="53" width="41" height="11" fill="#ff0000"/><text x="1650.5" y="62" fill="#fff" stroke="#fff" stroke-width="0.25" font-size="9.8" textLength="32" lengthAdjust="spacingAndGlyphs">7.08415</text>
<rect x="1646" y="94" width="41" height="11" fill="#000"/><text x="1650.5" y="103" fill="#fff" stroke="#fff" stroke-width="0.25" font-size="9.8" textLength="32" lengthAdjust="spacingAndGlyphs">7.07001</text>
<rect x="1646" y="111" width="41" height="11" fill="#ffa500"/><text x="1650.5" y="120" fill="#fff" stroke="#fff" stroke-width="0.25" font-size="9.8" textLength="32" lengthAdjust="spacingAndGlyphs">7.06327</text>
<rect x="1646" y="146" width="41" height="11" fill="#0000ff"/><text x="1650.5" y="155" fill="#fff" stroke="#fff" stroke-width="0.25" font-size="9.8" textLength="32" lengthAdjust="spacingAndGlyphs">7.05068</text>
<rect x="1646" y="175" width="41" height="11" fill="#0000ff"/><text x="1650.5" y="184" fill="#fff" stroke="#fff" stroke-width="0.25" font-size="9.8" textLength="32" lengthAdjust="spacingAndGlyphs">7.04040</text>
</g>
</svg>
<div id="toolbar">
<svg width="1692" height="21" viewBox="0 0 1692 21">
<rect x="5" y="0" width="1" height="19" fill="#a0a0a0" shape-rendering="crispEdges"/>
<defs><linearGradient id="gplus" x1="0" y1="0" x2="1" y2="1"><stop offset="0" stop-color="#7dff8e"/><stop offset="0.55" stop-color="#10e834"/><stop offset="1" stop-color="#0bbd25"/></linearGradient><linearGradient id="gbook" x1="0" y1="0" x2="1" y2="1"><stop offset="0" stop-color="#fbe04a"/><stop offset="0.6" stop-color="#e9b81c"/><stop offset="1" stop-color="#d79a10"/></linearGradient><linearGradient id="gcloud" x1="0" y1="0" x2="0" y2="1"><stop offset="0" stop-color="#ffffff"/><stop offset="1" stop-color="#bcc6d8"/></linearGradient><linearGradient id="gsrv" x1="0" y1="0" x2="0" y2="1"><stop offset="0" stop-color="#58bcff"/><stop offset="1" stop-color="#0f8cf0"/></linearGradient><linearGradient id="gyel" x1="0" y1="0" x2="1" y2="1"><stop offset="0" stop-color="#f5c828"/><stop offset="0.6" stop-color="#fff27a"/><stop offset="1" stop-color="#f0c020"/></linearGradient><linearGradient id="ghat" x1="0" y1="0" x2="0" y2="1"><stop offset="0" stop-color="#8fd0f6"/><stop offset="1" stop-color="#4aa6e0"/></linearGradient><radialGradient id="gstop" cx="0.6" cy="0.7" r="0.7"><stop offset="0" stop-color="#ff3a10"/><stop offset="1" stop-color="#c01800"/></radialGradient><linearGradient id="gsig" x1="0" y1="0" x2="1" y2="1"><stop offset="0" stop-color="#d6ead3"/><stop offset="0.55" stop-color="#9ccc98"/><stop offset="1" stop-color="#2c9c2a"/></linearGradient><linearGradient id="gcandle" x1="0" y1="0" x2="1" y2="0"><stop offset="0" stop-color="#22c83c"/><stop offset="0.5" stop-color="#7dff95"/><stop offset="1" stop-color="#22c83c"/></linearGradient></defs>
<g transform="translate(0 0)"><path d="M16.6 1.6 H23.4 L26.9 5 V13.4 Q26.9 14.4 25.9 14.4 H16.6 Q15.6 14.4 15.6 13.4 V2.6 Q15.6 1.6 16.6 1.6 Z" fill="#fff" stroke="#707070" stroke-width="1"/><path d="M23.4 1.6 V4 Q23.4 5 24.4 5 H26.9" fill="#e8e8e8" stroke="#707070" stroke-width="0.9"/><path d="M17.2 3.8 H20 M17.2 7.3 H23 M17.2 9.4 H21.7 M17.2 11.5 H19" stroke="#8a8a8a" stroke-width="1.1"/><path d="M23.5 7.6 H26.6 V11.4 H30.6 V14.6 H26.6 V18.4 H23.5 V14.6 H19.6 V11.4 H23.5 Z" fill="url(#gplus)" stroke="#0a8a12" stroke-width="1"/></g>
<g><path d="M88.3 2.2 C87.2 5 85.2 8 82.2 10.7 L90 16.7 L98 10.4 Z" fill="#e9dfae" stroke="#9a6408" stroke-width="1.2" stroke-linejoin="round"/><path d="M88.3 2.3 C87.2 5 85.2 8 82.3 10.7 L89.6 15.3 L97 8.9 Z" fill="url(#gbook)" stroke="#a56f0c" stroke-width="0.7" stroke-linejoin="round"/><path d="M83 10.9 L89.5 14.9 L91.2 13.5 L84.6 9.3 Z" fill="#f6e29a" opacity="0.9"/><path d="M90 16 L97.5 10.2" stroke="#8d6410" stroke-width="0.6" fill="none"/></g>
<g><path d="M111.8 2.3 L115.2 1.1 H123.2 V10.5 H111.8 Z" fill="url(#gsrv)"/><path d="M111.8 2.3 L115.2 3.5 V10.5 H111.8 Z" fill="#0a86ea"/><path d="M115.2 3.4 H123.2 V1.1 H115.2 L111.8 2.3 Z" fill="#6cc6ff"/><path d="M115.25 3.3 V10.5" stroke="#eaf7ff" stroke-width="0.7"/><rect x="116.8" y="5.6" width="4.8" height="1.1" fill="#fff"/><path d="M111.5 16.6 C109.6 16.6 109.6 12.6 111.6 12 C111.8 10.6 113.8 10.2 114.6 11.1 C115.4 8.6 120.4 8.2 121.4 11.2 C122.4 9.9 124.8 10.3 124.9 12.1 C126.6 12.6 126.6 16.6 124.7 16.6 Z" fill="url(#gcloud)" stroke="#4865a0" stroke-width="0.9"/></g>
<g fill="none"><path d="M146 8.9 L150 2.2 A7.8 7.8 0 0 1 146.3 16.7 Z" fill="url(#gsig)" opacity="0.9"/><circle cx="146" cy="8.9" r="7.4" stroke="#4a74d4" stroke-width="1" stroke-dasharray="14 32.5" stroke-dashoffset="-14" opacity="0.9"/><circle cx="146" cy="8.9" r="7.4" stroke="#9db6e6" stroke-width="0.9" opacity="0.55"/><circle cx="146" cy="8.9" r="4.7" stroke="#7d9ee0" stroke-width="1" opacity="0.8"/><circle cx="145.8" cy="8.4" r="2" fill="#2454d0"/><path d="M146.4 9 V16.6" stroke="#22a022" stroke-width="1.3"/></g>
<g><path d="M165.4 8.6 L181.2 7.8 L173.4 16.8 Z" fill="url(#gyel)" stroke="#c49a14" stroke-width="0.8" stroke-linejoin="round"/><ellipse cx="173" cy="5.9" rx="7.9" ry="2.7" fill="url(#ghat)" stroke="#1782b4" stroke-width="0.8"/><path d="M169 5.6 Q169.3 1.3 172.8 1.3 Q176.2 1.3 176.6 5.6 Q172.8 7 169 5.6 Z" fill="url(#ghat)" stroke="#1782b4" stroke-width="0.8"/><circle cx="177.6" cy="12.75" r="4.2" fill="url(#gstop)" stroke="#b41a06" stroke-width="0.5"/><rect x="176.2" y="11.3" width="2.9" height="2.9" fill="#fff"/></g>
<rect x="241" y="0" width="1" height="21" fill="#a0a0a0" shape-rendering="crispEdges"/>
<rect x="242" y="0" width="1" height="20" fill="#fff"/>
<rect x="245" y="1" width="3" height="1" fill="#a8a8a8" shape-rendering="crispEdges"/>
<rect x="245" y="3" width="3" height="1" fill="#a8a8a8" shape-rendering="crispEdges"/>
<rect x="245" y="5" width="3" height="1" fill="#a8a8a8" shape-rendering="crispEdges"/>
<rect x="245" y="7" width="3" height="1" fill="#a8a8a8" shape-rendering="crispEdges"/>
<rect x="245" y="9" width="3" height="1" fill="#a8a8a8" shape-rendering="crispEdges"/>
<rect x="245" y="11" width="3" height="1" fill="#a8a8a8" shape-rendering="crispEdges"/>
<rect x="245" y="13" width="3" height="1" fill="#a8a8a8" shape-rendering="crispEdges"/>
<rect x="245" y="15" width="3" height="1" fill="#a8a8a8" shape-rendering="crispEdges"/>
<rect x="245" y="17" width="3" height="1" fill="#a8a8a8" shape-rendering="crispEdges"/>
<g stroke="#555" stroke-width="1.4" fill="none"><path d="M259.5 3.5 V16.9 M257.0 14.6 H270.5"/><path d="M257.9 5 L259.5 3.2 L261.1 5 M268.9 13 L270.7 14.6 L268.9 16.2"/></g>
<path d="M265.5 4.2 V12.7 M265.5 5.2 H268 M263 11.5 H265.5" stroke="#138a1c" stroke-width="1.3" fill="none"/>
<rect x="279" y="0" width="1" height="19" fill="#8c8c8c" shape-rendering="crispEdges"/>
<rect x="280" y="0" width="24" height="19" fill="#f8f8f8" shape-rendering="crispEdges"/><rect x="279" y="19" width="25" height="1" fill="#fff" shape-rendering="crispEdges"/>
<g stroke="#555" stroke-width="1.4" fill="none"><path d="M287.5 3.5 V16.9 M285.0 14.6 H298.5"/><path d="M285.9 5 L287.5 3.2 L289.1 5 M296.9 13 L298.7 14.6 L296.9 16.2"/></g>
<path d="M293.5 1 V12.8" stroke="#0a8a12" stroke-width="1.3"/><rect x="291.3" y="3.3" width="4.5" height="7.4" fill="url(#gcandle)" stroke="#0a8a12" stroke-width="1.1"/>
<g stroke="#555" stroke-width="1.4" fill="none"><path d="M315.5 3.5 V16.9 M313.0 14.6 H326.5"/><path d="M313.9 5 L315.5 3.2 L317.1 5 M324.9 13 L326.7 14.6 L324.9 16.2"/></g>
<path d="M314 12 C317 9 319 5.5 321.5 6.5 S325 10 326.5 10.5" stroke="#2a9a38" stroke-width="1.2" fill="none"/>
<rect x="336" y="0" width="1" height="19" fill="#a0a0a0" shape-rendering="crispEdges"/>
<g><path d="M355 10.8 L359.7 15.5" stroke="#b8860f" stroke-width="3.2" stroke-linecap="butt"/><path d="M355 10.8 L359.4 15.2" stroke="#f2dc58" stroke-width="1.6" stroke-linecap="butt"/><circle cx="351" cy="7" r="5.5" fill="#d3f0fd" stroke="#3878c4" stroke-width="1.1"/><path d="M348.2 7 H353.8 M351 4.2 V9.8" stroke="#3f8fb4" stroke-width="1.7"/></g>
<g><path d="M383 10.8 L387.7 15.5" stroke="#b8860f" stroke-width="3.2" stroke-linecap="butt"/><path d="M383 10.8 L387.4 15.2" stroke="#f2dc58" stroke-width="1.6" stroke-linecap="butt"/><circle cx="379" cy="7" r="5.5" fill="#d3f0fd" stroke="#3878c4" stroke-width="1.1"/><path d="M376.2 7 H381.8" stroke="#3f8fb4" stroke-width="1.7"/></g>
<rect x="401" y="1" width="8" height="8" fill="#35a412"/><rect x="402" y="2" width="1" height="1" fill="#8fd860"/><path d="M402.3 4.2 H407.7 V8 H406.6 V7.2 H403.4 V8 H402.3 Z" fill="#fff"/><rect x="403.2" y="5.2" width="3.6" height="0.9" fill="#8fd860"/>
<rect x="409" y="1" width="8" height="8" fill="#1846d0"/><rect x="410" y="2" width="1" height="1" fill="#7a9cf4"/><path d="M410.3 4.2 H415.7 V8 H414.6 V7.2 H411.4 V8 H410.3 Z" fill="#fff"/><rect x="411.2" y="5.2" width="3.6" height="0.9" fill="#7a9cf4"/>
<rect x="401" y="9" width="8" height="8" fill="#1846d0"/><rect x="402" y="10" width="1" height="1" fill="#7a9cf4"/><path d="M402.3 12.2 H407.7 V16 H406.6 V15.2 H403.4 V16 H402.3 Z" fill="#fff"/><rect x="403.2" y="13.2" width="3.6" height="0.9" fill="#7a9cf4"/>
<rect x="409" y="9" width="8" height="8" fill="#35a412"/><rect x="410" y="10" width="1" height="1" fill="#8fd860"/><path d="M410.3 12.2 H415.7 V16 H414.6 V15.2 H411.4 V16 H410.3 Z" fill="#fff"/><rect x="411.2" y="13.2" width="3.6" height="0.9" fill="#8fd860"/>
<rect x="426" y="0" width="1" height="19" fill="#a0a0a0" shape-rendering="crispEdges"/>
<rect x="431" y="0" width="1" height="19" fill="#8c8c8c" shape-rendering="crispEdges"/>
<rect x="432" y="0" width="25" height="19" fill="#f8f8f8" shape-rendering="crispEdges"/><rect x="431" y="19" width="26" height="1" fill="#fff" shape-rendering="crispEdges"/>
<g stroke="#555" stroke-width="1.4" fill="none"><path d="M439.5 3.5 V16.9 M437.0 14.6 H450.5"/><path d="M437.9 5 L439.5 3.2 L441.1 5 M448.9 13 L450.7 14.6 L448.9 16.2"/></g>
<path d="M444.5 5 L448.3 8 L444.5 11 Z" fill="#7fe07f" stroke="#1e9a2c" stroke-width="1"/>
<rect x="459" y="0" width="1" height="19" fill="#8c8c8c" shape-rendering="crispEdges"/>
<rect x="460" y="0" width="26" height="19" fill="#f8f8f8" shape-rendering="crispEdges"/><rect x="459" y="19" width="27" height="1" fill="#fff" shape-rendering="crispEdges"/>
<g stroke="#555" stroke-width="1.4" fill="none"><path d="M467.5 3.5 V16.9 M465.0 14.6 H478.5"/><path d="M465.9 5 L467.5 3.2 L469.1 5 M476.9 13 L478.7 14.6 L476.9 16.2"/></g>
<path d="M473.5 3 V13" stroke="#2060b0" stroke-width="1.2"/><path d="M479.5 8.3 H475 M477 6.3 L475 8.3 L477 10.3" stroke="#d04010" stroke-width="1.1" fill="none"/>
<rect x="488" y="0" width="1" height="19" fill="#a0a0a0" shape-rendering="crispEdges"/>
<g transform="translate(483.2 0)"><path d="M16.6 1.6 H23.4 L26.9 5 V13.4 Q26.9 14.4 25.9 14.4 H16.6 Q15.6 14.4 15.6 13.4 V2.6 Q15.6 1.6 16.6 1.6 Z" fill="#fff" stroke="#707070" stroke-width="1"/><path d="M23.4 1.6 V4 Q23.4 5 24.4 5 H26.9" fill="#e8e8e8" stroke="#707070" stroke-width="0.9"/><path d="M17.2 3.8 H20 M17.2 7.3 H23 M17.2 9.4 H21.7 M17.2 11.5 H19" stroke="#8a8a8a" stroke-width="1.1"/><path d="M23.5 7.6 H26.6 V11.4 H30.6 V14.6 H26.6 V18.4 H23.5 V14.6 H19.6 V11.4 H23.5 Z" fill="url(#gplus)" stroke="#0a8a12" stroke-width="1"/></g>
<path d="M519.5 7.5 L525.5 7.5 L522.5 11 Z" fill="#000"/>
<g><circle cx="544" cy="8.7" r="7.6" fill="#2a78d8" stroke="#1c56a8" stroke-width="0.8"/><circle cx="544" cy="8.7" r="5.3" fill="#eef4fb"/><path d="M544 5 V9 H546.8" stroke="#444" stroke-width="1" fill="none"/></g>
<path d="M558.5 7.5 L564.5 7.5 L561.5 11 Z" fill="#000"/>
<g><rect x="575.5" y="2" width="15.5" height="13.5" fill="#fff" stroke="#3a74c4" stroke-width="1"/><rect x="575.5" y="2" width="15.5" height="2.2" fill="#4a86d8"/><path d="M577.5 8 L580 7 L582.5 7.8 L585 6.5 L589 6" stroke="#b03010" stroke-width="1.1" fill="none"/><path d="M577.5 13.5 L580 12 L582 13 L585.5 11 L589 13" stroke="#1e9a2c" stroke-width="1.1" fill="none"/><path d="M576 9.8 H590.5" stroke="#9ab8e4" stroke-width="0.8"/></g>
<path d="M597.5 7.5 L603.5 7.5 L600.5 11 Z" fill="#000"/>
<rect x="609" y="0" width="1" height="21" fill="#a0a0a0" shape-rendering="crispEdges"/>
<rect x="610" y="0" width="1" height="20" fill="#fff"/>
<rect x="613" y="1" width="3" height="1" fill="#a8a8a8" shape-rendering="crispEdges"/>
<rect x="613" y="3" width="3" height="1" fill="#a8a8a8" shape-rendering="crispEdges"/>
<rect x="613" y="5" width="3" height="1" fill="#a8a8a8" shape-rendering="crispEdges"/>
<rect x="613" y="7" width="3" height="1" fill="#a8a8a8" shape-rendering="crispEdges"/>
<rect x="613" y="9" width="3" height="1" fill="#a8a8a8" shape-rendering="crispEdges"/>
<rect x="613" y="11" width="3" height="1" fill="#a8a8a8" shape-rendering="crispEdges"/>
<rect x="613" y="13" width="3" height="1" fill="#a8a8a8" shape-rendering="crispEdges"/>
<rect x="613" y="15" width="3" height="1" fill="#a8a8a8" shape-rendering="crispEdges"/>
<rect x="613" y="17" width="3" height="1" fill="#a8a8a8" shape-rendering="crispEdges"/>
<rect x="619" y="0" width="1" height="19" fill="#8c8c8c" shape-rendering="crispEdges"/>
<rect x="620" y="0" width="25" height="19" fill="#f8f8f8" shape-rendering="crispEdges"/><rect x="619" y="19" width="26" height="1" fill="#fff" shape-rendering="crispEdges"/>
<path d="M627 2.3 V14 L629.8 11.4 L632 16.2 L633.8 15.4 L631.7 10.8 L635.3 10.6 Z" fill="#444"/>
<path d="M659.5 2 V8 M659.5 10.5 V16.5 M652 9.3 H658.3 M660.8 9.3 H667" stroke="#555" stroke-width="1.2" fill="none"/>
<rect x="676" y="0" width="1" height="19" fill="#a0a0a0" shape-rendering="crispEdges"/>
<path d="M693.7 3 V16" stroke="#555" stroke-width="1.2"/>
<path d="M716 9.3 H728" stroke="#555" stroke-width="1.2"/>
<path d="M743.6 16 L756.3 4" stroke="#555" stroke-width="1.2"/>
<g stroke="#555" stroke-width="1" fill="none"><path d="M769.5 10.6 L783.6 2 M771 15.8 L785 7.3"/><path d="M773.2 7 L774 15 M776.2 5 L777.2 13 M779.3 3 L780.4 11 M782.3 1 L783.6 9.2"/></g><text x="780.8" y="18.6" font-size="6.5" font-weight="bold" fill="#444" font-family="Liberation Sans,sans-serif">E</text>
<path d="M799 2.5 H812.5" stroke="#555" stroke-width="1" stroke-dasharray="1 1" shape-rendering="crispEdges"/>
<path d="M799 5.5 H812.5" stroke="#555" stroke-width="1" stroke-dasharray="1 1" shape-rendering="crispEdges"/>
<path d="M799 9.5 H812.5" stroke="#555" stroke-width="1" stroke-dasharray="1 1" shape-rendering="crispEdges"/>
<path d="M799 13.5 H807" stroke="#555" stroke-width="1" stroke-dasharray="1 1" shape-rendering="crispEdges"/>
<text x="808.6" y="18.2" font-size="6.5" font-weight="bold" fill="#444" font-family="Liberation Sans,sans-serif">F</text>
<text x="829.5" y="14" font-size="12" fill="#555" stroke="#555" stroke-width="0.45" font-family="Liberation Sans,sans-serif">A</text>
<rect x="856" y="3" width="11.5" height="13" fill="none" stroke="#555" stroke-width="1" stroke-dasharray="1 1" shape-rendering="crispEdges"/><path d="M858.3 5.7 H865.3 M861.8 5.7 V13.5" stroke="#555" stroke-width="1.5" fill="none"/>
<g fill="#555"><path d="M887 2.8 L890.2 6 L887 8 L883.8 6 Z"/><path d="M893.5 10.8 L897 13 L893.5 16 L890.3 13 Z"/><path d="M886 9.5 L888 11.8 L892.8 6.8" stroke="#555" stroke-width="1.3" fill="none"/></g>
<path d="M903.5 7.5 L909.5 7.5 L906.5 11 Z" fill="#000"/>
<rect x="915" y="0" width="1" height="21" fill="#a0a0a0" shape-rendering="crispEdges"/>
<rect x="916" y="0" width="1" height="20" fill="#fff"/>
<rect x="919" y="1" width="3" height="1" fill="#a8a8a8" shape-rendering="crispEdges"/>
<rect x="919" y="3" width="3" height="1" fill="#a8a8a8" shape-rendering="crispEdges"/>
<rect x="919" y="5" width="3" height="1" fill="#a8a8a8" shape-rendering="crispEdges"/>
<rect x="919" y="7" width="3" height="1" fill="#a8a8a8" shape-rendering="crispEdges"/>
<rect x="919" y="9" width="3" height="1" fill="#a8a8a8" shape-rendering="crispEdges"/>
<rect x="919" y="11" width="3" height="1" fill="#a8a8a8" shape-rendering="crispEdges"/>
<rect x="919" y="13" width="3" height="1" fill="#a8a8a8" shape-rendering="crispEdges"/>
<rect x="919" y="15" width="3" height="1" fill="#a8a8a8" shape-rendering="crispEdges"/>
<rect x="919" y="17" width="3" height="1" fill="#a8a8a8" shape-rendering="crispEdges"/>
<rect x="1065" y="0" width="1" height="19" fill="#8c8c8c" shape-rendering="crispEdges"/>
<rect x="1066" y="0" width="24" height="19" fill="#f8f8f8" shape-rendering="crispEdges"/><rect x="1065" y="19" width="25" height="1" fill="#fff" shape-rendering="crispEdges"/>
<rect x="1176" y="0" width="1" height="21" fill="#a0a0a0" shape-rendering="crispEdges"/>
<g><path d="M1643.6 9.4 L1639 14.3" stroke="#1f57c0" stroke-width="2.2" stroke-linecap="round"/><circle cx="1646.6" cy="6.4" r="3.9" fill="#f6f8ff" stroke="#2a62d0" stroke-width="1.2"/></g>
<defs><linearGradient id="bdg" x1="0" y1="0" x2="0" y2="1"><stop offset="0" stop-color="#e8653f"/><stop offset="1" stop-color="#d22c10"/></linearGradient></defs>
<g><path d="M1663.5 10.5 a6 4.6 0 1 1 6 4.7 L1666.3 17.3 L1667 14.6 a6 4.6 0 0 1 -3.5 -4.1 Z" fill="#e4e4f2" stroke="#a9a9b4" stroke-width="0.8"/><circle cx="1677.4" cy="6" r="8.3" fill="url(#bdg)"/><text x="1676.6" y="10.8" font-size="12" font-weight="bold" fill="#fff" text-anchor="middle" font-family="Liberation Sans,sans-serif">1</text></g>
</svg>
<span class="lbl" style="left:34px;">新订单</span>
<span class="lbl" style="left:186.7px;">自动交易</span>
<svg width="1692" height="21" viewBox="0 0 1692 21" text-rendering="geometricPrecision" font-family="Liberation Sans,sans-serif" font-size="9.8" fill="#444">
<text x="930.3" y="13" textLength="13.2" lengthAdjust="spacingAndGlyphs" stroke="#444" stroke-width="0.15">M1</text>
<text x="958.5" y="13" textLength="12.5" lengthAdjust="spacingAndGlyphs" stroke="#444" stroke-width="0.15">M5</text>
<text x="984.8" y="13" textLength="17.5" lengthAdjust="spacingAndGlyphs" stroke="#444" stroke-width="0.15">M15</text>
<text x="1012.8" y="13" textLength="17.7" lengthAdjust="spacingAndGlyphs" stroke="#444" stroke-width="0.15">M30</text>
<text x="1043.5" y="13" textLength="12" lengthAdjust="spacingAndGlyphs" stroke="#444" stroke-width="0.15">H1</text>
<text x="1070.5" y="13" textLength="12.3" lengthAdjust="spacingAndGlyphs" stroke="#444" stroke-width="0.15">H4</text>
<text x="1099.3" y="13" textLength="12.2" lengthAdjust="spacingAndGlyphs" stroke="#444" stroke-width="0.15">D1</text>
<text x="1126.5" y="13" textLength="15.3" lengthAdjust="spacingAndGlyphs" stroke="#444" stroke-width="0.15">W1</text>
<text x="1153.5" y="13" textLength="15" lengthAdjust="spacingAndGlyphs" stroke="#444" stroke-width="0.15">MN</text>
</svg>
</div>
</body></html>
